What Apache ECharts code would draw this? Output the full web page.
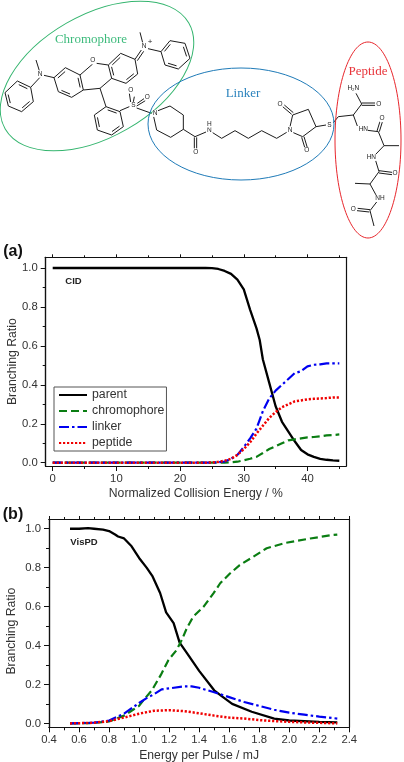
<!DOCTYPE html>
<html><head><meta charset="utf-8">
<style>html,body{margin:0;padding:0;background:#fff}#c{width:404px;height:762px}</style>
<script src="https://cdn.jsdelivr.net/npm/echarts@6/dist/echarts.min.js"></script>
</head><body><div id="c"></div>
<script>
// ---- data: panel (a) CID ----
const cidX = [0,5,10,15,20,24,25,26,27,28,29,30,31,32,32.5,33,34,35,36,37,38,39,40,41,42,43,44,45];
const cidParent = [1,1,1,1,1,1,.999,.995,.985,.97,.94,.89,.785,.69,.63,.53,.41,.29,.21,.16,.11,.065,.043,.03,.02,.015,.012,.01];
const cidChromophore = [0,0,0,0,0,0,0,0,0,.002,.005,.012,.02,.03,.04,.05,.07,.085,.10,.115,.12,.125,.13,.132,.135,.14,.142,.145];
const cidLinker = [0,0,0,0,0,0,0,.002,.006,.02,.04,.08,.125,.175,.22,.265,.33,.37,.40,.43,.46,.47,.495,.503,.505,.51,.51,.51];
const cidPeptide = [0,0,0,0,0,0,.001,.004,.01,.02,.04,.07,.105,.15,.17,.19,.23,.26,.285,.30,.315,.32,.325,.328,.33,.332,.335,.335];
// ---- data: panel (b) VisPD ----
const visParentX = [.54,.6,.66,.7,.76,.8,.84,.86,.9,.95,1,1.05,1.09,1.14,1.18,1.23,1.27,1.32,1.4,1.5,1.55,1.62,1.75,1.9,2,2.2,2.32];
const visParent = [1,1,1.003,1,.995,.988,.97,.96,.95,.91,.85,.80,.755,.67,.57,.515,.415,.36,.27,.17,.14,.10,.06,.025,.015,.008,.005];
const visChromX = [.54,.7,.8,.9,.96,1,1.03,1.085,1.144,1.195,1.25,1.284,1.317,1.36,1.43,1.495,1.54,1.605,1.67,1.76,1.85,1.98,2.14,2.29,2.32];
const visChromophore = [0,.002,.01,.04,.07,.09,.12,.17,.248,.325,.377,.428,.488,.548,.6,.668,.72,.77,.813,.856,.9,.928,.95,.968,.97];
const visLinkerX = [.54,.7,.8,.9,1,1.05,1.1,1.15,1.2,1.3,1.35,1.4,1.5,1.6,1.7,1.8,1.9,2,2.1,2.2,2.32];
const visLinker = [0,.004,.015,.05,.105,.13,.15,.175,.18,.19,.19,.183,.16,.135,.11,.09,.07,.055,.045,.035,.025];
const visPeptideX = [.54,.7,.8,.9,1,1.1,1.2,1.3,1.4,1.5,1.6,1.7,1.8,1.9,2,2.1,2.2,2.32];
const visPeptide = [0,.003,.012,.03,.05,.065,.068,.063,.052,.04,.03,.025,.017,.012,.008,.005,.003,0];
// ---- tick values ----
const yMajor = [0,.2,.4,.6,.8,1];
const yMinor = [.1,.3,.5,.7,.9];
const xMajorA = [0,10,20,30,40];
const xMinorA = [5,15,25,35,45];
const xMajorB = [.4,.6,.8,1,1.2,1.4,1.6,1.8,2,2.2,2.4];
const xMinorB = [.5,.7,.9,1.1,1.3,1.5,1.7,1.9,2.1,2.3];
const names = ['parent','chromophore','linker','peptide'];

// ---- molecule scheme (pixel drawing units = 1/3 px) ----
const chains = [
 [[120,232],[92,262]],[[108,180],[118,212]],[[132,226],[162,233]],
 [[278,192],[240,225]],[[290,190],[325,195]],[[250,270],[300,265]],[[300,265],[335,235]],
 [[300,265],[318,320]],[[360,332],[388,320]],[[410,324],[455,340]],
 [[420,97],[428,128]],[[444,146],[483,155]],
 [[474,332],[510,318],[550,345],[550,388],[512,412],[470,390],[461,350]],
 [[550,388],[585,410],[618,396]],[[638,398],[665,415],[705,392],[745,415],[785,392],[830,415],[860,397]],
 [[870,380],[878,345],[925,328],[948,380],[908,410],[880,398]],
 [[948,380],[978,375]],[[1000,368],[1015,350],[1060,345],[1085,312]],[[1085,312],[1068,280]],
 [[1060,345],[1072,378]],[[1095,390],[1135,395],[1152,437],[1197,437]],[[1152,437],[1128,462]],
 [[1127,482],[1137,515],[1110,552],[1065,550]],[[1110,552],[1128,585]],[[1130,606],[1110,632],[1122,678]]
];
const doubles = [
 [[403,290],[400,306]],[[388,280],[392,306]],[[412,310],[432,296]],[[410,318],[436,302]],
 [[405,178],[424,150]],[[412,182],[431,154]],
 [[583,412],[583,445]],[[590,412],[590,445]],
 [[875,343],[848,320]],[[880,338],[853,315]],
 [[905,412],[915,445]],[[912,410],[922,443]],
 [[1085,309],[1125,309]],[[1085,316],[1125,316]],
 [[1131,393],[1140,364]],[[1138,395],[1147,366]],
 [[1137,512],[1176,517]],[[1137,519],[1176,524]],
 [[1110,629],[1073,625]],[[1108,636],[1071,632]]
];
const rings = [
 {p:[[92,262],[52,243],[15,278],[25,318],[65,335],[100,305]],d:[0,2,4]},
 {p:[[162,233],[196,203],[240,225],[250,270],[215,292],[175,275]],d:[0,2,4]},
 {p:[[325,195],[362,160],[405,178],[413,222],[378,250],[335,235]],d:[0,3,5]},
 {p:[[318,320],[360,335],[370,380],[335,405],[292,390],[283,345]],d:[0,2,4]},
 {p:[[483,155],[510,122],[555,130],[570,175],[535,207],[495,195]],d:[0,2,4]}
];
const atoms = [
 ['N',120,222],['O',278,182],['S',400,316],['O',392,270],['O',442,291],['N',465,340],
 ['N',432,138],['N',628,390],['H',628,372],['O',587,457],['N',870,390],['O',840,312],['O',920,452],['S',988,376],
 ['H\u2082N',1060,265],['O',1136,312],['HN',1090,389],['O',1146,356],['HN',1114,472],['O',1185,520],
 ['NH',1140,595],['O',1060,627]
];

const K = 1/3;
const gfx = [];
const seg = (pts,w)=>gfx.push({type:'polyline',silent:true,shape:{points:pts.map(p=>[p[0]*K,p[1]*K])},style:{fill:null,stroke:'#1c1c1c',lineWidth:w||1}});
chains.forEach(c=>seg(c));
doubles.forEach(c=>seg(c));
rings.forEach(r=>{
  const n=r.p.length; const cx=r.p.reduce((a,b)=>a+b[0],0)/n, cy=r.p.reduce((a,b)=>a+b[1],0)/n;
  seg(r.p.concat([r.p[0]]));
  r.d.forEach(i=>{
    const a=r.p[i],b=r.p[(i+1)%n];
    const m=p=>[p[0]+(cx-p[0])*.2,p[1]+(cy-p[1])*.2];
    const A=m(a),B=m(b);
    seg([[A[0]+(B[0]-A[0])*.1,A[1]+(B[1]-A[1])*.1],[B[0]-(B[0]-A[0])*.1,B[1]-(B[1]-A[1])*.1]]);
  });
});
atoms.forEach(a=>gfx.push({type:'text',silent:true,style:{text:a[0],x:a[1]*K,y:a[2]*K,fill:'#1c1c1c',font:'6.5px "Liberation Sans"',align:'center',verticalAlign:'middle',backgroundColor:'#fff'},z:5}));
gfx.push({type:'text',silent:true,style:{text:'+',x:150,y:41.5,fill:'#1c1c1c',font:'8px "Liberation Sans"',align:'center',verticalAlign:'middle'}});

const ell=(cx,cy,rx,ry,deg,col)=>gfx.push({type:'ellipse',silent:true,x:cx,y:cy,rotation:deg*Math.PI/180,shape:{cx:0,cy:0,rx,ry},style:{fill:null,stroke:col,lineWidth:1}});
ell(97,76,106,61,30,'#35b56f');
ell(241,124,93,56,0,'#1f7bb8');
ell(368,140,33,98,0,'#e8262c');
const label=(t,x,y,col,f)=>gfx.push({type:'text',silent:true,z:6,style:{text:t,x,y,fill:col,font:f,align:'center',verticalAlign:'middle'}});
label('Chromophore',91,40,'#3dbb7c','13px "Liberation Serif"');
label('Linker',243,94,'#2b83bd','13px "Liberation Serif"');
label('Peptide',368,72,'#e8343a','13px "Liberation Serif"');
label('(a)',13,252,'#111','bold 16px "Liberation Sans"');
label('(b)',13,515,'#111','bold 16px "Liberation Sans"');
label('CID',73.5,281,'#222','bold 9.5px "Liberation Sans"');
label('VisPD',84,542,'#222','bold 9.5px "Liberation Sans"');

// ---- chart ----
const txt='#333';
const grids=[{left:45.7,top:257.3,width:300.3,height:208.7,outerBoundsMode:'none'},{left:49,top:519,width:300.3,height:208.3,outerBoundsMode:'none'}];
const lineCol='#111';
function xAxes(gi,min,max,maj,mnr,title,fmt,gap){
  const base={type:'value',gridIndex:gi,min,max,splitLine:{show:false},axisLine:{onZero:false,lineStyle:{color:lineCol,width:1.2}}};
  return [
   {...base,position:'bottom',name:title,nameLocation:'middle',nameGap:gap,nameMoveOverlap:false,nameTextStyle:{fontFamily:'Liberation Sans',fontSize:12.2,color:txt},
    axisTick:{show:true,length:5,customValues:maj,lineStyle:{color:lineCol}},
    axisLabel:{show:true,customValues:maj,formatter:fmt,fontFamily:'Liberation Sans',fontSize:11.3,color:txt,margin:7}},
   {...base,position:'bottom',axisTick:{show:true,length:3,customValues:mnr,lineStyle:{color:lineCol}},axisLabel:{show:false}},
   {...base,position:'top',axisTick:{show:true,length:3,customValues:maj,lineStyle:{color:lineCol}},axisLabel:{show:false}},
   {...base,position:'top',axisTick:{show:true,length:2,customValues:mnr,lineStyle:{color:lineCol}},axisLabel:{show:false}}
  ];
}
function yAxes(gi,min,max,pad,gap){
  const base={type:'value',gridIndex:gi,min,max,splitLine:{show:false},axisLine:{onZero:false,lineStyle:{color:lineCol,width:1.2}}};
  return [
   {...base,position:'left',name:'Branching Ratio',nameLocation:'middle',nameGap:gap,nameMoveOverlap:false,nameRotate:90,nameTextStyle:{fontFamily:'Liberation Sans',fontSize:12.2,color:txt,padding:pad},
    axisTick:{show:true,length:5,customValues:yMajor,lineStyle:{color:lineCol}},
    axisLabel:{show:true,customValues:yMajor,formatter:v=>v.toFixed(1),fontFamily:'Liberation Sans',fontSize:11.3,color:txt,margin:8}},
   {...base,position:'left',axisTick:{show:true,length:3,customValues:yMinor,lineStyle:{color:lineCol}},axisLabel:{show:false}},
   {...base,position:'right',axisTick:{show:false},axisLabel:{show:false}}
  ];
}
const styles=[
 {color:'#000',width:2.3,type:'solid'},
 {color:'#0a7d12',width:2.2,type:[8,4]},
 {color:'#0000f0',width:2.2,type:[10,3,2.5,3]},
 {color:'#f00000',width:2.5,type:[2.2,1.8]}
];
const zip=(x,y)=>x.map((v,i)=>[v,y[i]]);
function ser(name,i,x,y,xi,yi){
  return {name,type:'line',xAxisIndex:xi,yAxisIndex:yi,data:zip(x,y),showSymbol:false,symbol:'none',smooth:false,silent:true,animation:false,
    lineStyle:styles[i],itemStyle:{color:styles[i].color},z:3+i};
}
const option={
 animation:false,backgroundColor:'#fff',
 grid:grids,
 xAxis:[...xAxes(0,-1.1,46.05,xMajorA,xMinorA,'Normalized Collision Energy / %',v=>String(v),22),
        ...xAxes(1,.4,2.4,xMajorB,xMinorB,'Energy per Pulse / mJ',v=>v.toFixed(1),22)],
 yAxis:[...yAxes(0,-.017,1.055,[0,0,0,0],27),...yAxes(1,-.02,1.05,[0,16,0,0],31)],
 legend:{show:true,data:names,orient:'vertical',left:54,top:387,padding:[2,2,2,4],itemWidth:28,itemHeight:8,itemGap:4,
   borderColor:'#555',borderWidth:1,backgroundColor:'#fff',itemStyle:{opacity:0},
   textStyle:{fontFamily:'Liberation Sans',fontSize:12.3,color:txt},selectedMode:false},
 graphic:{elements:gfx},
 series:[
  ser(names[0],0,cidX,cidParent,0,0),ser(names[1],1,cidX,cidChromophore,0,0),ser(names[2],2,cidX,cidLinker,0,0),ser(names[3],3,cidX,cidPeptide,0,0),
  ser(names[1],1,visChromX,visChromophore,4,3),ser(names[2],2,visLinkerX,visLinker,4,3),ser(names[3],3,visPeptideX,visPeptide,4,3),ser(names[0],0,visParentX,visParent,4,3)
 ]
};
const chart=echarts.init(document.getElementById('c'),null,{renderer:'canvas'});
chart.setOption(option);
</script></body></html>
